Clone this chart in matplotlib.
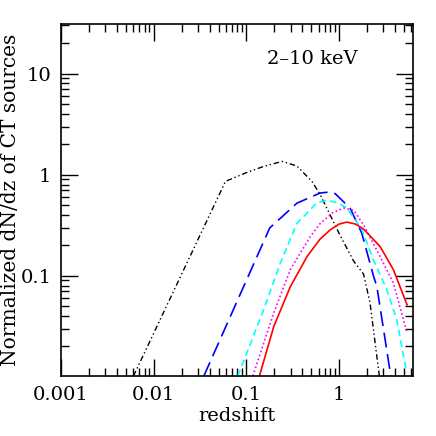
import matplotlib
matplotlib.use("Agg")
import matplotlib.pyplot as plt
from matplotlib.ticker import LogLocator, FixedLocator, FixedFormatter, NullFormatter

# Values (redshift, normalized dN/dz)
z_black = [0.00605, 0.0594, 0.1, 0.15, 0.242, 0.35, 0.508, 0.625, 1.025, 1.43, 1.83, 2.15, 2.71]
n_black = [0.0102, 0.86, 1.05, 1.2, 1.355, 1.22, 0.86, 0.634, 0.25, 0.14, 0.104, 0.054, 0.0102]

z_blue = [0.0347, 0.178, 0.351, 0.625, 0.767, 0.905, 1.31, 1.75, 2.34, 2.55, 3.6]
n_blue = [0.0102, 0.297, 0.524, 0.66, 0.672, 0.65, 0.468, 0.265, 0.1, 0.078, 0.0102]

z_cyan = [0.0807, 0.153, 0.232, 0.351, 0.45, 0.576, 0.737, 0.95, 1.21, 1.75, 2.34, 3.26, 4.17, 5.34]
n_cyan = [0.0102, 0.046, 0.134, 0.332, 0.417, 0.53, 0.557, 0.53, 0.468, 0.29, 0.144, 0.073, 0.037, 0.011]

z_mag = [0.117, 0.197, 0.297, 0.488, 0.625, 0.85, 1.11, 1.43, 1.83, 2.76, 3.84, 5.4]
n_mag = [0.0102, 0.043, 0.115, 0.245, 0.33, 0.42, 0.468, 0.445, 0.32, 0.155, 0.085, 0.027]

z_red = [0.138, 0.197, 0.297, 0.45, 0.62, 0.8, 1.0, 1.21, 1.5, 1.83, 2.76, 3.84, 5.4]
n_red = [0.0102, 0.0315, 0.078, 0.155, 0.23, 0.285, 0.325, 0.34, 0.325, 0.29, 0.195, 0.115, 0.0516]

FONT = "DejaVu Serif"
plt.rcParams["font.family"] = FONT

fig = plt.figure(figsize=(4.36, 4.36), dpi=100)
ax = fig.add_axes([61 / 436, 60 / 436, 352 / 436, 352 / 436])

ax.plot(z_black, n_black, color="black", lw=1.0, dashes=[4, 2, 1, 2, 1, 2])
ax.plot(z_blue, n_blue, color="blue", lw=1.2, dashes=[9, 4])
ax.plot(z_cyan, n_cyan, color="cyan", lw=1.2, dashes=[4, 2.5])
ax.plot(z_mag, n_mag, color="magenta", lw=1.2, dashes=[1, 1.5])
ax.plot(z_red, n_red, color="red", lw=1.2)

ax.set_xscale("log")
ax.set_yscale("log")
ax.set_xlim(0.001, 6.25)
ax.set_ylim(0.0102, 31)

ax.xaxis.set_major_locator(FixedLocator([0.001, 0.01, 0.1, 1]))
ax.xaxis.set_major_formatter(FixedFormatter(["0.001", "0.01", "0.1", "1"]))
ax.yaxis.set_major_locator(FixedLocator([0.1, 1, 10]))
ax.yaxis.set_major_formatter(FixedFormatter(["0.1", "1", "10"]))
for a in (ax.xaxis, ax.yaxis):
    a.set_minor_locator(LogLocator(base=10, subs=range(2, 10), numticks=20))
    a.set_minor_formatter(NullFormatter())

ax.tick_params(which="both", direction="in", top=True, right=True, width=1.0)
ax.tick_params(which="major", length=12, labelsize=14, pad=7)
ax.tick_params(which="minor", length=6)
for s in ax.spines.values():
    s.set_linewidth(1.2)

ax.set_xlabel("redshift", fontsize=14, labelpad=2)
ax.set_ylabel("Normalized dN/dz of CT sources", fontsize=14.5)
ax.yaxis.set_label_coords(-0.116, 0.5)
ax.text(0.713, 0.90, "2\u201310 keV", transform=ax.transAxes, fontsize=14,
        ha="center", va="center")

fig.savefig("out.png", dpi=100)
